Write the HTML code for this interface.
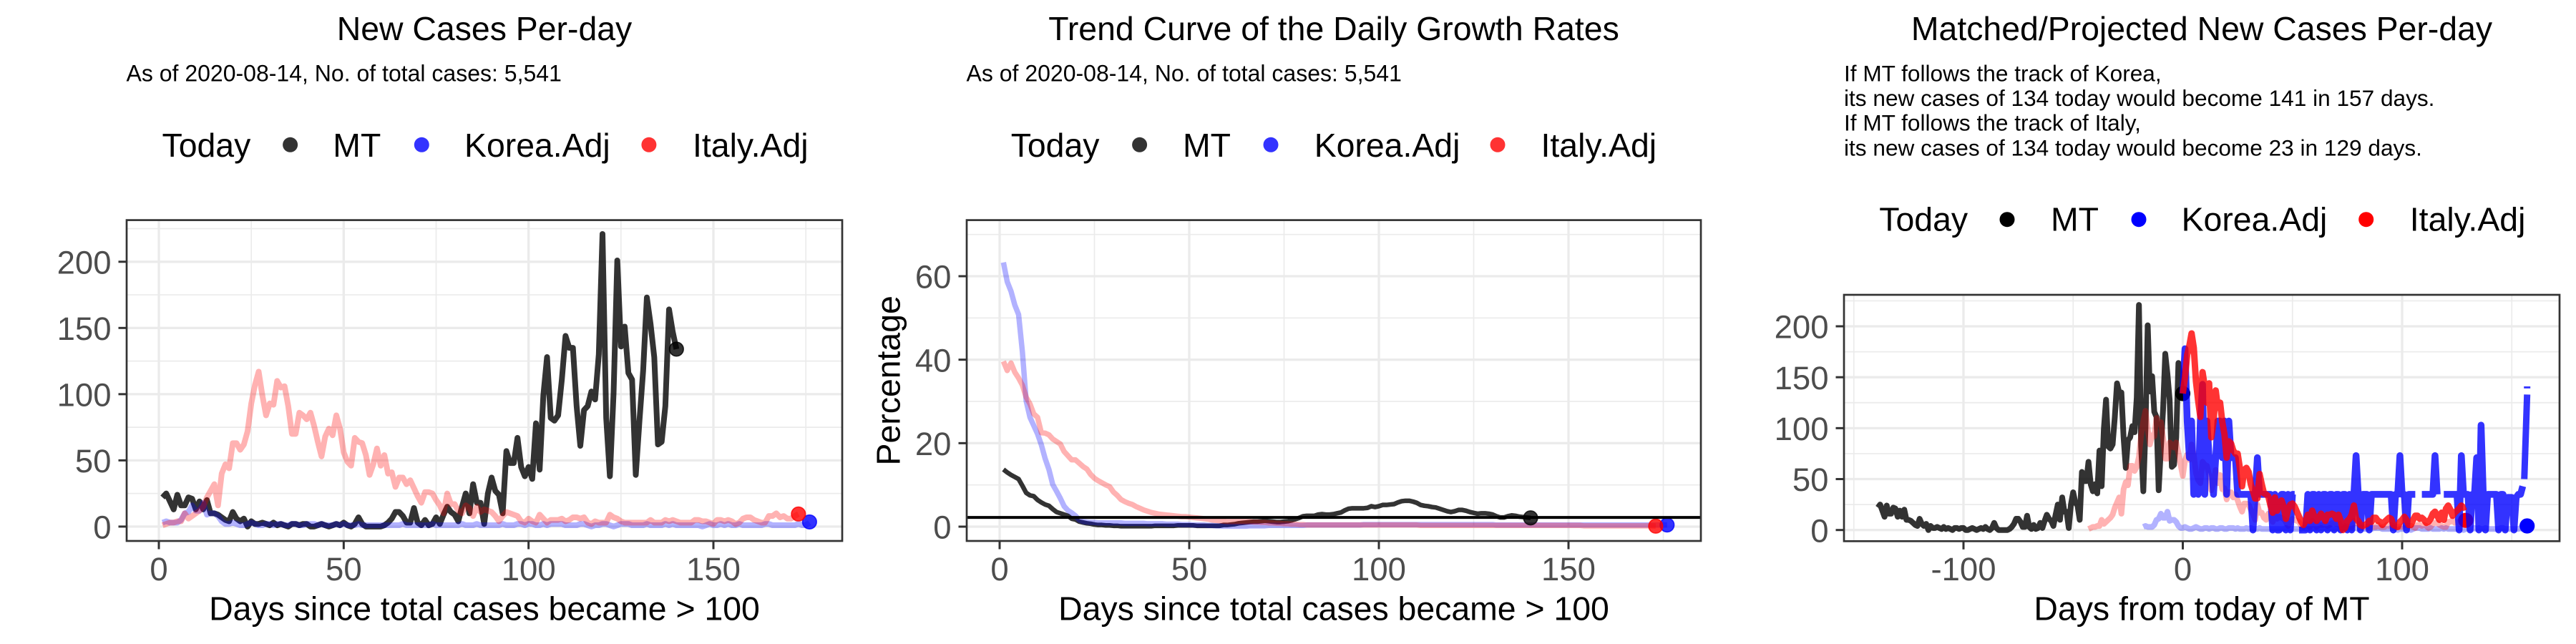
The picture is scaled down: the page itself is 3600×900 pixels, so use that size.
<!DOCTYPE html>
<html lang="en">
<head>
<meta charset="utf-8">
<title>MT COVID-19 new cases, growth rates and projections</title>
<style>
  html,body{margin:0;padding:0;background:#fff;}
  body{width:3600px;height:900px;overflow:hidden;}
  svg{display:block;font-family:"Liberation Sans",Arial,sans-serif;}
  .title{font-size:46.4px;fill:#000;text-anchor:middle;}
  .sub{font-size:32px;fill:#000;}
  .sub3{font-size:31.6px;fill:#000;}
  .leg{font-size:46.4px;fill:#000;}
  .axt{font-size:46.4px;fill:#000;text-anchor:middle;}
  .tick{font-size:45.5px;fill:#4d4d4d;}
</style>
</head>
<body>
<svg id="figure" xmlns="http://www.w3.org/2000/svg" width="3600" height="900" viewBox="0 0 3600 900">
  <rect width="3600" height="900" fill="#fff"/>

  <!-- Panel 1 headings -->
  <text class="title" x="677" y="56">New Cases Per-day</text>
  <text class="sub" x="176.5" y="113.5">As of 2020-08-14, No. of total cases: 5,541</text>
  <g>
    <text class="leg" x="226.5" y="219">Today</text>
    <circle cx="405.6" cy="202.3" r="10.5" fill="#333333"/>
    <text class="leg" x="465.3" y="219">MT</text>
    <circle cx="589.3" cy="202.3" r="10.5" fill="#3333ff"/>
    <text class="leg" x="649" y="219">Korea.Adj</text>
    <circle cx="906.9" cy="202.3" r="10.5" fill="#ff3333"/>
    <text class="leg" x="968" y="219">Italy.Adj</text>
  </g>
  <text class="axt" x="677" y="866.5">Days since total cases became &gt; 100</text>

  <!-- Panel 2 headings -->
  <text class="title" x="1864" y="56">Trend Curve of the Daily Growth Rates</text>
  <text class="sub" x="1350.5" y="113.5">As of 2020-08-14, No. of total cases: 5,541</text>
  <g>
    <text class="leg" x="1412.7" y="219">Today</text>
    <circle cx="1592.6" cy="202.3" r="10.5" fill="#333333"/>
    <text class="leg" x="1653" y="219">MT</text>
    <circle cx="1776" cy="202.3" r="10.5" fill="#3333ff"/>
    <text class="leg" x="1836.7" y="219">Korea.Adj</text>
    <circle cx="2093" cy="202.3" r="10.5" fill="#ff3333"/>
    <text class="leg" x="2153.5" y="219">Italy.Adj</text>
  </g>
  <text class="axt" x="1864" y="866.5">Days since total cases became &gt; 100</text>
  <text class="axt" transform="translate(1257.5 531.8) rotate(-90)">Percentage</text>

  <!-- Panel 3 headings -->
  <text class="title" x="3077" y="56">Matched/Projected New Cases Per-day</text>
  <g>
    <text class="sub3" x="2577" y="113.5">If MT follows the track of Korea,</text>
    <text class="sub3" x="2577" y="148">its new cases of 134 today would become 141 in 157 days.</text>
    <text class="sub3" x="2577" y="182.7">If MT follows the track of Italy,</text>
    <text class="sub3" x="2577" y="217.3">its new cases of 134 today would become 23 in 129 days.</text>
  </g>
  <g>
    <text class="leg" x="2626.3" y="322.7">Today</text>
    <circle cx="2805" cy="306.7" r="10.5" fill="#000000"/>
    <text class="leg" x="2866" y="322.7">MT</text>
    <circle cx="2989" cy="306.7" r="10.5" fill="#0000ff"/>
    <text class="leg" x="3048.6" y="322.7">Korea.Adj</text>
    <circle cx="3306.7" cy="306.7" r="10.5" fill="#ff0000"/>
    <text class="leg" x="3367.8" y="322.7">Italy.Adj</text>
  </g>
  <text class="axt" x="3077" y="866.5">Days from today of MT</text>

  <g id="panel-1"></g>
  <g id="panel-2"></g>
  <g id="panel-3"></g>
</svg>

<script>
/* ---------- Tick values ---------- */
const casesXTicks = [0, 50, 100, 150];
const casesXMinor = [25, 75, 125, 175];
const casesYTicks = [0, 50, 100, 150, 200];
const casesYMinor = [25, 75, 125, 175, 225];
const growthXTicks = [0, 50, 100, 150];
const growthXMinor = [25, 75, 125, 175];
const growthYTicks = [0, 20, 40, 60];
const growthYMinor = [10, 30, 50, 70];
const matchedXTicks = [-100, 0, 100];
const matchedXMinor = [-150, -50, 50, 150];
const matchedYTicks = [0, 50, 100, 150, 200];
const matchedYMinor = [25, 75, 125, 175, 225];

/* ---------- New cases per day (day 1 onward) ---------- */
const mtDaily = [
  22,25,19,13,24,16,16,22,21,13,
  19,13,20,10,10,9,7,5,4,11,
  6,4,6,0,4,2,2,3,2,1,
  3,1,2,1,0,2,2,1,2,2,
  0,0,1,2,1,0,1,2,1,3,
  1,0,2,7,2,0,0,0,0,0,
  1,3,6,11,11,8,3,3,14,3,
  1,5,1,2,7,2,9,15,11,9,
  4,15,25,10,32,18,18,2,25,37,
  27,24,10,57,48,48,67,45,38,45,
  36,78,43,99,128,82,80,84,111,144,
  135,135,91,61,88,91,102,96,130,221,
  82,38,101,201,136,151,116,111,39,80,
  118,173,153,128,62,64,91,164,147,134
];
const koreaDaily = [
  3,4,3,3,3,5,10,11,16,12,
  12,18,9,10,10,8,4,2,2,3,
  2,1,1,2,3,2,1,1,2,2,
  1,2,2,1,1,2,2,1,1,2,
  2,2,1,2,1,1,1,2,1,2,
  1,1,1,2,1,1,1,1,1,1,
  1,1,1,1,1,2,1,1,1,1,
  1,1,1,2,1,1,1,1,1,1,
  1,2,1,1,1,2,1,1,1,1,
  1,1,2,1,1,1,2,2,1,2,
  2,1,1,2,1,2,2,2,2,1,
  1,1,1,2,2,1,0,1,1,2,
  2,1,0,1,2,2,2,1,1,1,
  1,2,1,1,1,1,2,1,2,1,
  1,1,1,1,1,1,0,1,2,1,
  1,2,1,2,1,1,2,1,1,1,
  1,1,1,2,2,1,1,1,1,1,
  1,1,2,1,1,3
];
const italyDaily = [
  1,2,3,3,4,4,10,6,8,10,
  12,15,22,27,32,16,40,47,44,63,
  63,58,62,72,93,107,117,99,84,93,
  92,110,105,106,91,70,70,86,84,81,
  86,76,64,53,68,74,69,84,74,56,
  49,46,67,64,63,54,39,47,59,46,
  54,40,41,30,37,37,32,35,29,23,
  18,26,26,25,20,16,10,25,17,17,
  12,10,16,14,8,15,11,13,12,11,
  8,4,8,11,10,9,8,4,3,6,
  4,3,9,6,3,5,5,5,6,4,
  5,7,7,6,7,3,2,4,3,3,
  3,9,7,6,4,3,3,3,3,3,
  3,3,5,3,3,3,5,4,5,4,
  3,3,3,3,5,5,4,4,3,2,
  5,5,4,5,4,2,3,6,7,7,
  5,4,3,3,8,8,10,7,8,6,
  6,8,9.5
];

/* ---------- Growth rates, percent (day 1 onward) ---------- */
const mtGrowth = [
  13.7,13,12.4,11.9,11.4,9.8,8.1,7.5,7.3,6.4,
  5.8,5.3,5,4.2,3.5,3.2,2.9,2.6,1.9,1.7,
  1.2,1,.8,.7,.5,.4,.4,.3,.3,.2,
  .2,.1,.1,.1,.1,.1,.1,.1,.1,.1,
  .2,.2,.2,.2,.2,.2,.3,.3,.3,.3,
  .3,.2,.2,.2,.2,.2,.2,.2,.4,.4,
  .5,.6,.8,.9,1,1.1,1.2,1.2,1.3,1.4,
  1.3,1.2,1.1,1.1,1.2,1.3,1.5,1.8,2.1,2.5,
  2.6,2.6,2.6,2.9,3,2.9,2.9,3,3.2,3.4,
  3.9,4.3,4.4,4.4,4.4,4.4,4.5,4.9,4.7,4.9,
  5.2,5.2,5.3,5.4,5.8,6.1,6.2,6.2,6,5.7,
  5.2,5,4.9,4.7,4.6,4.3,4,3.7,3.5,3.7,
  4,4,3.8,3.5,3.3,3.1,3.2,3.2,3.1,2.9,
  2.5,2.2,2.2,2.5,2.7,2.6,2.4,2.3,2.2,2.1
];
const koreaGrowth = [
  63.3,58.7,56.4,53.1,50.8,41.9,30.1,26.2,24.2,22.2,
  19.6,16.3,13.7,10.1,8.5,6.8,4.9,3.9,3.3,2.6,
  1.6,1.2,1.1,1,1,.9,.9,.9,.9,.9,
  .9,.9,.8,.8,.8,.8,.8,.8,.7,.7,
  .7,.7,.7,.6,.6,.6,.6,.5,.5,.5,
  .4,.4,.4,.4,.3,.3,.2,.2,.1,.1,
  .1,.1,.1,.1,.1,.2,.2,.2,.2,.2,
  .3,.3,.3,.3,.3,.3,.3,.3,.3,.3,
  .4,.4,.4,.4,.4,.4,.4,.4,.4,.4,
  .4,.4,.4,.4,.4,.5,.5,.5,.5,.5,
  .5,.5,.5,.5,.5,.5,.5,.5,.5,.5,
  .5,.5,.5,.5,.5,.5,.5,.5,.5,.5,
  .5,.5,.5,.5,.5,.5,.5,.5,.5,.5,
  .4,.4,.4,.4,.4,.4,.4,.4,.4,.4,
  .4,.4,.4,.4,.4,.4,.4,.4,.4,.4,
  .4,.4,.4,.4,.4,.4,.4,.4,.4,.4,
  .4,.4,.4,.4,.4,.4,.4,.4,.4,.4,
  .4,.4,.4,.4,.4,.4
];
const italyGrowth = [
  39.6,37.4,39.2,37,35.6,33.9,31,29.4,27,26.2,
  22.5,22.4,22,21,20.4,19.8,18,17,16,16,
  15.2,14.4,13.8,12.5,11.6,11,10.5,10,9.6,8.3,
  7.5,6.5,6,5.6,5.3,4.8,4.4,4,3.7,3.4,
  3.2,3,2.9,2.8,2.7,2.6,2.5,2.4,2.4,2.3,
  2.2,2.1,2,1.9,1.8,1.6,1.5,1.4,1.3,1.2,
  1.2,1.2,1.2,1.2,1.2,1.2,1.1,1.1,1,1,
  .9,.9,.8,.8,.7,.7,.6,.6,.5,.5,
  .4,.4,.4,.4,.4,.4,.4,.4,.4,.4,
  .4,.4,.4,.4,.4,.4,.4,.4,.4,.4,
  .4,.4,.4,.4,.4,.4,.4,.4,.4,.4,
  .3,.3,.3,.3,.3,.3,.3,.3,.3,.3,
  .3,.3,.3,.3,.3,.3,.3,.3,.3,.3,
  .3,.3,.3,.3,.3,.3,.3,.3,.3,.3,
  .3,.3,.3,.3,.3,.3,.3,.3,.3,.3,
  .3,.3,.3,.2,.2,.2,.2,.2,.2,.2,
  .2,.2,.2,.2,.2,.2,.2,.2,.2,.2,
  .2,.2,.13
];
const growthReferenceLine = [2.2];

/* ---------- Projections (day 0 = today of MT) ---------- */
const koreaMatched = [
  134,178,107,71,107,35,71,35,107,143,
  35,107,71,71,35,71,107,107,71,107,
  35,107,71,71,71,35,35,35,35,35,
  35,35,0,35,71,35,35,35,35,35,
  35,0,35,0,0,35,35,0,35,0,
  35,35,null,0,0,0,0,35,0,35,
  35,0,35,0,35,35,0,35,35,0,
  35,35,0,35,35,0,35,0,35,73,
  35,0,35,35,35,0,35,35,35,35,
  35,35,35,35,35,35,0,35,35,73,
  35,35,0,35,35,35,35,null,null,35,
  35,35,35,35,35,73,35,null,null,35,
  35,35,35,35,35,35,0,73,35,35,
  35,0,35,35,71,0,103,35,0,35,
  35,35,35,35,0,35,35,0,32,32,
  32,0,32,35,35,43
];
const koreaTailDays = [155.7, 157];
const koreaTailCases = [50, 133];
const koreaEndDays = [157, 157];
const koreaEndCases = [139, 141];
const italyMatched = [
  134,150,172,181,193,179,146,127,111,155,
  141,125,144,91,106,137,120,125,106,94,
  71,87,85,78,75,75,61,43,59,61,
  57,45,38,31,31,55,45,36,35,33,
  24,17,32,19,27,29,23,11,20,25,
  26,23,18,13,8,5,9,15,9,19,
  13,9,12,16,13,9,15,15,16,15,
  11,15,9,0,2,9,11,15,24,11,
  9,5,4,5,6,9,8,12,12,9,
  8,5,8,10,12,11,5,4,3,8,
  10,13,10,5,5,10,14,14,11,12,
  10,7,8,11,16,18,14,10,17,10,
  21,24,20,14,17,19,21,24,22,23
];

/* ---------- Today markers: day then value ---------- */
const casesToday = [[140, 134], [176, 3.5], [173, 9.5]];
const growthToday = [[140, 2.1], [176, 0.4], [173, 0.13]];
const matchedToday = [[0, 134], [157, 4], [129, 9.5]];

const SVGNS = 'http://www.w3.org/2000/svg';

function scale(domainA, rangeA, domainB, rangeB) {
  const k = (rangeB - rangeA) / (domainB - domainA);
  return function (v) { return rangeA + (v - domainA) * k; };
}

function seriesPath(values, firstDay, xScale, yScale) {
  let d = '';
  let pen = false;
  values.forEach(function (v, i) {
    if (v === null) { pen = false; return; }
    d += (pen ? 'L' : 'M') + xScale(firstDay + i).toFixed(2) + ' ' + yScale(v).toFixed(2);
    pen = true;
  });
  return d;
}

function pairedPath(days, values, xScale, yScale) {
  let d = '';
  days.forEach(function (day, i) {
    d += (i ? 'L' : 'M') + xScale(day).toFixed(2) + ' ' + yScale(values[i]).toFixed(2);
  });
  return d;
}

function addLine(parent, x1, y1, x2, y2, color, width, name) {
  const el = document.createElementNS(SVGNS, 'line');
  el.setAttribute('x1', x1);
  el.setAttribute('y1', y1);
  el.setAttribute('x2', x2);
  el.setAttribute('y2', y2);
  el.setAttribute('stroke', color);
  el.setAttribute('stroke-width', width);
  
  
  parent.appendChild(el);
}

function addSeries(parent, d, color, opacity, width, name) {
  const el = document.createElementNS(SVGNS, 'path');
  el.setAttribute('d', d);
  el.setAttribute('fill', 'none');
  el.setAttribute('stroke', color);
  el.setAttribute('stroke-opacity', opacity);
  el.setAttribute('stroke-width', width);
  el.setAttribute('stroke-linejoin', 'round');
  el.setAttribute('stroke-linecap', 'butt');
  
  
  parent.appendChild(el);
}

function addDot(parent, cx, cy, color, opacity, name) {
  const el = document.createElementNS(SVGNS, 'circle');
  el.setAttribute('cx', cx.toFixed(2));
  el.setAttribute('cy', cy.toFixed(2));
  el.setAttribute('r', 9.8);
  el.setAttribute('fill', color);
  el.setAttribute('fill-opacity', opacity);
  el.setAttribute('stroke', color);
  el.setAttribute('stroke-opacity', opacity);
  el.setAttribute('stroke-width', 1.6);
  
  
  parent.appendChild(el);
}

function addTickLabel(parent, x, y, anchor, value, name) {
  const el = document.createElementNS(SVGNS, 'text');
  el.setAttribute('class', 'tick');
  el.setAttribute('x', x);
  el.setAttribute('y', y);
  el.setAttribute('text-anchor', anchor);
  
  
  el.textContent = String(value);
  parent.appendChild(el);
}

function drawFrame(parent, box, xScale, yScale, xTicks, xMinor, yTicks, yMinor) {
  const bg = document.createElementNS(SVGNS, 'rect');
  bg.setAttribute('x', box.left);
  bg.setAttribute('y', box.top);
  bg.setAttribute('width', box.right - box.left);
  bg.setAttribute('height', box.bottom - box.top);
  bg.setAttribute('fill', '#ffffff');
  
  
  parent.appendChild(bg);
  yMinor.forEach(function (v) { addLine(parent, box.left, yScale(v), box.right, yScale(v), '#ebebeb', 1.7, 'minor-grid-line-y'); });
  xMinor.forEach(function (v) { addLine(parent, xScale(v), box.top, xScale(v), box.bottom, '#ebebeb', 1.7, 'minor-grid-line-x'); });
  yTicks.forEach(function (v) { addLine(parent, box.left, yScale(v), box.right, yScale(v), '#ebebeb', 3.3, 'major-grid-line-y'); });
  xTicks.forEach(function (v) { addLine(parent, xScale(v), box.top, xScale(v), box.bottom, '#ebebeb', 3.3, 'major-grid-line-x'); });
  yTicks.forEach(function (v) {
    addLine(parent, box.left - 11.5, yScale(v), box.left, yScale(v), '#333333', 3, 'y-axis-tick');
    addTickLabel(parent, box.left - 21.5, yScale(v) + 16.6, 'end', v, 'y-axis-tick-label');
  });
  xTicks.forEach(function (v) {
    addLine(parent, xScale(v), box.bottom, xScale(v), box.bottom + 11.5, '#333333', 3, 'x-axis-tick');
    addTickLabel(parent, xScale(v), 811, 'middle', v, 'x-axis-tick-label');
  });
}

function drawBorder(parent, box) {
  const el = document.createElementNS(SVGNS, 'rect');
  el.setAttribute('x', box.left);
  el.setAttribute('y', box.top);
  el.setAttribute('width', box.right - box.left);
  el.setAttribute('height', box.bottom - box.top);
  el.setAttribute('fill', 'none');
  el.setAttribute('stroke', '#333333');
  el.setAttribute('stroke-width', 2.7);
  
  
  parent.appendChild(el);
}

/* Panel 1: new cases per day */
(function () {
  const g = document.getElementById('panel-1');
  const box = { left: 177, right: 1177, top: 307.6, bottom: 756 };
  const x = scale(0, 222, 150, 997);
  const y = scale(0, 735.9, 200, 365.8);
  drawFrame(g, box, x, y, casesXTicks, casesXMinor, casesYTicks, casesYMinor);
  addSeries(g, seriesPath(mtDaily, 1, x, y), '#000000', 0.8, 8, 'line-mt');
  addSeries(g, seriesPath(koreaDaily, 1, x, y), '#0000ff', 0.3, 8, 'line-korea-adj');
  addSeries(g, seriesPath(italyDaily, 1, x, y), '#ff0000', 0.3, 8, 'line-italy-adj');
  addDot(g, x(casesToday[0][0]), y(casesToday[0][1]), '#000000', 0.8, 'today-point-mt');
  addDot(g, x(casesToday[1][0]), y(casesToday[1][1]), '#0000ff', 0.8, 'today-point-korea');
  addDot(g, x(casesToday[2][0]), y(casesToday[2][1]), '#ff0000', 0.8, 'today-point-italy');
  drawBorder(g, box);
})();

/* Panel 2: growth-rate trend */
(function () {
  const g = document.getElementById('panel-2');
  const box = { left: 1351, right: 2377, top: 307.6, bottom: 756 };
  const x = scale(0, 1397, 150, 2192);
  const y = scale(0, 736, 60, 386);
  drawFrame(g, box, x, y, growthXTicks, growthXMinor, growthYTicks, growthYMinor);
  addSeries(g, seriesPath(mtGrowth, 1, x, y), '#000000', 0.8, 6.5, 'line-mt');
  addSeries(g, seriesPath(koreaGrowth, 1, x, y), '#0000ff', 0.3, 7.5, 'line-korea-adj');
  addSeries(g, seriesPath(italyGrowth, 1, x, y), '#ff0000', 0.3, 7.5, 'line-italy-adj');
  addDot(g, x(growthToday[0][0]), y(growthToday[0][1]), '#000000', 0.8, 'today-point-mt');
  addDot(g, x(growthToday[1][0]), y(growthToday[1][1]), '#0000ff', 0.8, 'today-point-korea');
  addDot(g, x(growthToday[2][0]), y(growthToday[2][1]), '#ff0000', 0.8, 'today-point-italy');
  addLine(g, box.left, y(growthReferenceLine[0]), box.right, y(growthReferenceLine[0]), '#000000', 4, 'reference-line');
  drawBorder(g, box);
})();

/* Panel 3: matched and projected new cases */
(function () {
  const g = document.getElementById('panel-3');
  const box = { left: 2577, right: 3577, top: 412, bottom: 756.3 };
  const x = scale(-100, 2744, 100, 3357);
  const y = scale(0, 740.7, 200, 456);
  drawFrame(g, box, x, y, matchedXTicks, matchedXMinor, matchedYTicks, matchedYMinor);
  addSeries(g, seriesPath(mtDaily, -139, x, y), '#000000', 0.8, 8, 'line-mt');
  addSeries(g, seriesPath(koreaDaily, -18, x, y), '#0000ff', 0.3, 8, 'line-korea-original');
  addSeries(g, seriesPath(italyDaily, -43, x, y), '#ff0000', 0.3, 8, 'line-italy-original');
  addDot(g, x(matchedToday[0][0]), y(matchedToday[0][1]), '#000000', 1, 'today-point-mt');
  addDot(g, x(matchedToday[2][0]), y(matchedToday[2][1]), '#ff0000', 1, 'today-point-italy');
  addSeries(g, seriesPath(koreaMatched, 0, x, y), '#0000ff', 0.8, 9.5, 'line-korea-projected');
  addSeries(g, pairedPath(koreaTailDays, koreaTailCases, x, y), '#0000ff', 0.8, 9, 'line-korea-projected-tail');
  addSeries(g, pairedPath(koreaEndDays, koreaEndCases, x, y), '#0000ff', 0.8, 9, 'line-korea-projected-end');
  addSeries(g, seriesPath(italyMatched, 0, x, y), '#ff0000', 0.8, 9, 'line-italy-projected');
  addDot(g, x(matchedToday[1][0]), y(matchedToday[1][1]), '#0000ff', 1, 'today-point-korea');
  drawBorder(g, box);
})();
</script>
</body>
</html>
